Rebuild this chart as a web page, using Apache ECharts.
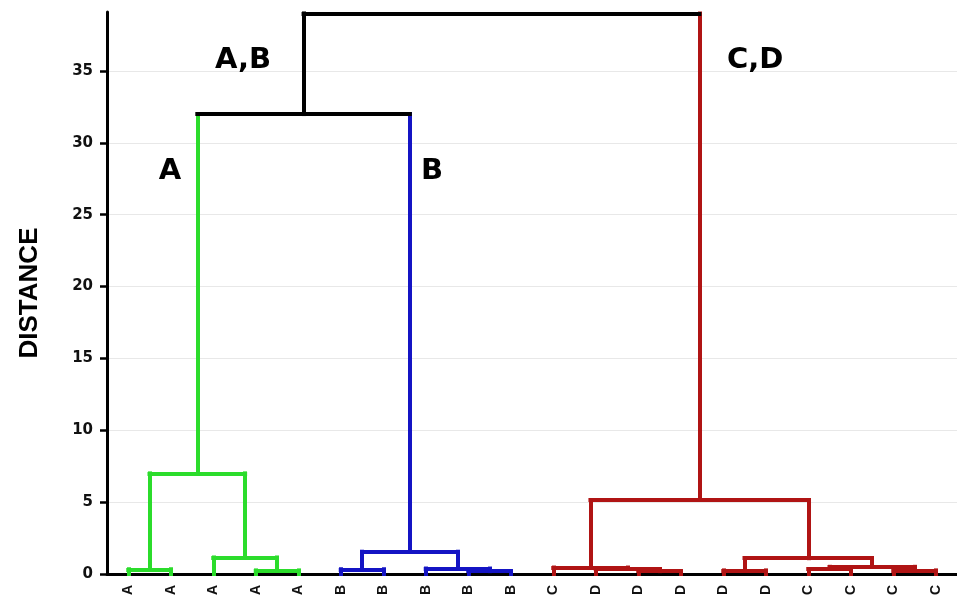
<!DOCTYPE html>
<html>
<head>
<meta charset="utf-8">
<script src="https://cdn.jsdelivr.net/npm/echarts@6/dist/echarts.min.js"></script>
<style>
  html, body { margin: 0; background: #fff; }
  #myEcharts { width: 957px; height: 609px; }
</style>
</head>
<body>
<div id="myEcharts"></div>
<script>
// leaves along the bottom
var leafLabels = ['A','A','A','A','A','B','B','B','B','B','C','D','D','D','D','D','C','C','C','C'];

// merges: [id, left child, right child, distance] (numbers = leaf index)
var mergesA  = [['a1',0,1,0.33], ['a2',3,4,0.25], ['a3',2,'a2',1.15], ['A','a1','a3',7.0]];
var mergesB  = [['b1',5,6,0.33], ['b2',8,9,0.2], ['b3',7,'b2',0.38], ['B','b1','b3',1.55]];
var mergesCD = [['c1',12,13,0.2], ['c2',11,'c1',0.35], ['c3',10,'c2',0.45],
                ['c4',14,15,0.25], ['c5',16,17,0.35], ['c6',18,19,0.25],
                ['c7','c5','c6',0.5], ['c8','c4','c7',1.1], ['CD','c3','c8',5.15]];
var mergesTop = [['AB','A','B',32], ['root','AB','CD',39]];

// y axis
var yMax = 39.1;
var yStep = 5;

// cluster captions: [text, leaf position, distance]
var captions = [['A,B',2.7,35.7], ['C,D',14.75,35.7], ['A',0.98,28.0], ['B',7.15,28.0]];

var groups = [
  { merges: mergesA,   color: '#2bdc2b' },
  { merges: mergesB,   color: '#1414c4' },
  { merges: mergesCD,  color: '#b01414' },
  { merges: mergesTop, color: '#000000' }
];

// lay out the tree: each merge sits midway between its children
var nodes = {};
leafLabels.forEach(function (l, i) { nodes[i] = { x: i, h: 0, g: -1 }; });
var segs = groups.map(function () { return []; });
groups.forEach(function (grp, gi) {
  grp.merges.forEach(function (m) {
    var l = nodes[m[1]], r = nodes[m[2]], h = m[3];
    if (l.g < 0) l.g = gi;
    if (r.g < 0) r.g = gi;
    nodes[m[0]] = { x: (l.x + r.x) / 2, h: h, g: gi };
    segs[gi].push({ coords: [[l.x, h], [r.x, h]] });
    segs[l.g].push({ coords: [[l.x, l.h], [l.x, h]] });
    segs[r.g].push({ coords: [[r.x, r.h], [r.x, h]] });
  });
});

var series = groups.map(function (grp, gi) {
  return {
    type: 'lines',
    coordinateSystem: 'cartesian2d',
    xAxisIndex: 1,
    yAxisIndex: 0,
    z: 3 + (gi === 3 ? 1 : 0),
    silent: true,
    lineStyle: { color: grp.color, width: 4, opacity: 1, cap: 'square' },
    data: segs[gi]
  };
});
series.push({
  type: 'scatter',
  xAxisIndex: 1,
  yAxisIndex: 0,
  symbolSize: 0,
  silent: true,
  itemStyle: { opacity: 1 },
  label: {
    show: true,
    position: 'inside',
    formatter: '{b}',
    color: '#000',
    opacity: 1,
    textBorderWidth: 0,
    fontFamily: 'DejaVu Sans',
    fontWeight: 'bold',
    fontSize: 29
  },
  data: captions.map(function (c) { return { name: c[0], value: [c[1], c[2]] }; })
});

var myChart = echarts.init(document.getElementById('myEcharts'));
myChart.setOption({
  animation: false,
  backgroundColor: '#fff',
  grid: { left: 107, right: 0, top: 12, bottom: 35 },
  xAxis: [
    {
      type: 'category',
      data: leafLabels,
      boundaryGap: true,
      axisLine: { lineStyle: { color: '#000', width: 3 } },
      axisTick: { alignWithLabel: true, length: 7, lineStyle: { color: '#000', width: 2.5 } },
      axisLabel: {
        rotate: 90,
        margin: 11,
        color: '#111',
        fontFamily: 'Liberation Sans',
        fontWeight: 'bold',
        fontSize: 14
      }
    },
    { type: 'value', min: -0.5, max: leafLabels.length - 0.5, show: false }
  ],
  yAxis: [
    {
      type: 'value',
      min: 0,
      max: yMax,
      interval: yStep,
      name: 'DISTANCE',
      nameLocation: 'middle',
      nameGap: 64,
      nameTextStyle: { color: '#000', fontFamily: 'Liberation Sans', fontWeight: 'bold', fontSize: 26 },
      axisLine: { show: true, onZero: false, lineStyle: { color: '#000', width: 3 } },
      axisTick: { show: true, length: 7, lineStyle: { color: '#000', width: 2.5 } },
      axisLabel: {
        showMaxLabel: false,
        margin: 14,
        color: '#111',
        fontFamily: 'DejaVu Sans',
        fontWeight: 'bold',
        fontSize: 15
      },
      splitLine: { show: true, showMaxLine: false, lineStyle: { color: '#e8e8e8', width: 1 } }
    },
    {
      type: 'value',
      min: 0,
      max: yMax,
      interval: yStep / 2,
      axisLine: { show: false, onZero: false },
      axisTick: { show: true, length: 4, lineStyle: { color: '#000', width: 2.5 } },
      axisLabel: { show: false },
      splitLine: { show: false }
    }
  ],
  series: series
});
</script>
</body>
</html>
